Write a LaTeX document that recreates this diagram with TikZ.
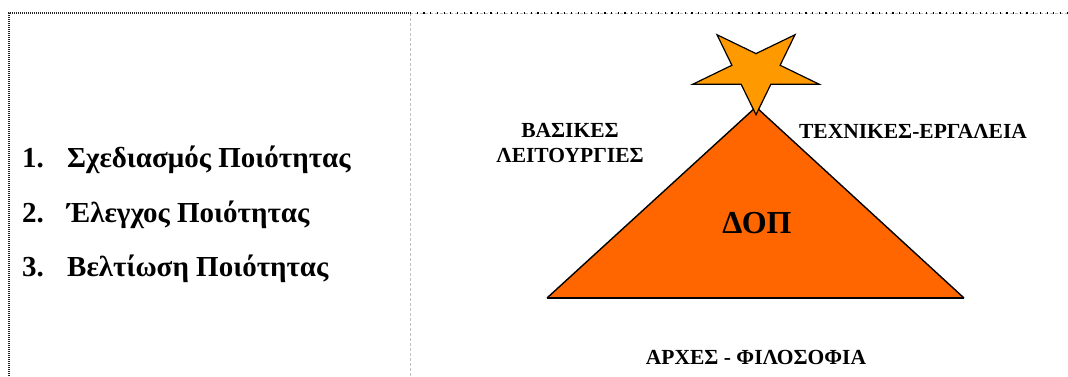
\documentclass[tikz,border=0pt]{standalone}
\usepackage{fontspec}
\setmainfont{Liberation Serif}
\begin{document}
\begin{tikzpicture}[x=1pt,y=-1pt,
  item/.style={font=\fontsize{29}{34}\selectfont\bfseries, anchor=base west, inner sep=0pt},
  lbl/.style={font=\fontsize{21.5}{25}\selectfont\bfseries, align=center, inner sep=0pt},
  big/.style={font=\fontsize{32}{38}\selectfont\bfseries, inner sep=0pt},
  darkborder/.style={line width=1.6pt, dash pattern=on 1pt off 1pt, black!85},
  lightborder/.style={line width=0.8pt, dash pattern=on 3pt off 2pt, black!25}]
\useasboundingbox (0,0) rectangle (1068,376);
% borders
\coordinate (tl) at (9,13);
\coordinate (tm) at (410,13);
\coordinate (tr) at (1068,13);
\coordinate (bl) at (9,380);
\coordinate (bm) at (410,380);
\draw[lightborder] (tm) -- (bm);
\draw[lightborder] (tm) -- (tr);
\draw[line width=1.4pt, dash pattern=on 1.2pt off 5.5pt, black] (tm) -- (tr);
\draw[darkborder] (bl) -- (tl) -- (tm);
% left items
\node[item] (n1) at (22,167) {1.};
\node[item] (t1) at (67,167) {Σχεδιασμός Ποιότητας};
\node[item] (n2) at (22,222) {2.};
\node[item] (t2) at (67,222) {Έλεγχος Ποιότητας};
\node[item] (n3) at (22,276) {3.};
\node[item] (t3) at (67,276) {Βελτίωση Ποιότητας};
% triangle
\coordinate (apex) at (756,107);
\coordinate (bL) at (547,298);
\coordinate (bR) at (964,298);
\fill[fill={rgb,255:red,255;green,102;blue,0}] (bL) -- (apex) -- (bR) -- cycle;
\draw[line width=1.4pt, line join=miter] (bL) -- (apex) -- (bR);
\draw[line width=2pt] (bL) -- (bR);
% star
\begin{scope}[shift={(756,70.5)}, xscale=1.5]
\draw[line width=1.2pt, fill={rgb,255:red,255;green,153;blue,0}, line join=miter]
  (90:44.2) -- (126:16.9) -- (162:44.2) -- (198:16.9) -- (234:44.2) -- (270:16.9)
  -- (306:44.2) -- (342:16.9) -- (18:44.2) -- (54:16.9) -- cycle;
\end{scope}
\node[big] (dop) at (757,223) {ΔΟΠ};
\node[lbl] (bas) at (570,143) {ΒΑΣΙΚΕΣ\\ΛΕΙΤΟΥΡΓΙΕΣ};
\node[lbl] (tex) at (913,131) {ΤΕΧΝΙΚΕΣ-ΕΡΓΑΛΕΙΑ};
\node[lbl] (arx) at (756,357) {ΑΡΧΕΣ - ΦΙΛΟΣΟΦΙΑ};
\end{tikzpicture}
\end{document}
